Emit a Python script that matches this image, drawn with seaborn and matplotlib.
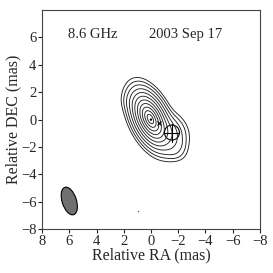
import numpy as np
import pandas as pd
import matplotlib
matplotlib.use("Agg")
import matplotlib.pyplot as plt
import seaborn as sns
from matplotlib.patches import Ellipse, Circle

# model components (RA mas, DEC mas, flux, major sigma, minor sigma, PA deg)
comp_ra = [0.05, -1.45, -1.7, 1.5, -2.1]
comp_dec = [0.05, -1.0, -2.3, 1.3, -1.8]
comp_flux = [1.0, 0.09, 0.025, 0.01, 0.01]
comp_maj = [1.05, 0.75, 0.5, 0.5, 0.35]
comp_min = [0.55, 0.6, 0.4, 0.4, 0.3]
comp_pa = [25, 25, 70, 25, 25]

contour_levels = [0.0085, 0.019, 0.04, 0.08, 0.145, 0.24, 0.37, 0.52, 0.68, 0.83, 0.945]

# markers
core_pos = (0.0, 0.0)
knot_pos = (-0.56, -0.23)
jet_pos = (-1.54, -0.95)
jet_radius = 0.55
beam_pos = (6.0, -5.95)
beam_size = (1.05, 2.1)
beam_angle = -18
stray_dot = (0.95, -6.7)

sns.set_theme(style="ticks")
plt.rcParams['font.family'] = ['Liberation Serif', 'DejaVu Serif']

x = np.linspace(-8, 8, 500)
y = np.linspace(-8, 8, 500)
X, Y = np.meshgrid(x, y)
Z = np.zeros_like(X)
for ra, dec, f, a, b, pa in zip(comp_ra, comp_dec, comp_flux, comp_maj, comp_min, comp_pa):
    t = np.deg2rad(pa)
    dx = X - ra
    dy = Y - dec
    u = dx * np.sin(t) + dy * np.cos(t)
    v = dx * np.cos(t) - dy * np.sin(t)
    Z += f * np.exp(-0.5 * ((u / a) ** 2 + (v / b) ** 2))

fig = plt.figure(figsize=(2.73, 2.73), dpi=100)
ax = fig.add_axes([0.154, 0.161, 0.798, 0.802])

ax.contour(X, Y, Z, levels=contour_levels, colors='#222222', linewidths=0.65)

pts = pd.DataFrame({'ra': [core_pos[0]], 'dec': [core_pos[1]]})
sns.scatterplot(data=pts, x='ra', y='dec', ax=ax, color='black', s=3, edgecolor='none')
ax.plot(*stray_dot, marker='o', color='#555555', markersize=1, mew=0)
ax.plot(*knot_pos, marker='x', color='black', markersize=3, mew=0.8)

ax.add_patch(Circle(jet_pos, jet_radius, fill=False, edgecolor='black', lw=0.8))
ax.plot([jet_pos[0] - jet_radius, jet_pos[0] + jet_radius], [jet_pos[1]] * 2, color='black', lw=0.8)
ax.plot([jet_pos[0]] * 2, [jet_pos[1] - jet_radius * 1.2, jet_pos[1] + jet_radius * 1.2], color='black', lw=0.8)

ax.add_patch(Ellipse(beam_pos, beam_size[0], beam_size[1], angle=beam_angle,
                     facecolor='#707070', edgecolor='black', lw=0.8))

ax.text(4.3, 6.25, '8.6 GHz', fontsize=10.5, ha='center', va='center')
ax.text(-2.55, 6.25, '2003 Sep 17', fontsize=10.5, ha='center', va='center')

ax.set_xlim(8, -8)
ax.set_ylim(-8, 8)
ax.set_xticks(np.arange(8, -9, -2))
ax.set_yticks(np.arange(-8, 7, 2))
ax.set_xticklabels([str(v).replace('-', '\u2212') for v in range(8, -9, -2)])
ax.set_yticklabels([str(v).replace('-', '\u2212') for v in range(-8, 7, 2)])
ax.tick_params(labelsize=10.5, length=3, width=0.8, direction='out', pad=1)
ax.set_xlabel('Relative RA (mas)', fontsize=11.5, labelpad=0)
ax.set_ylabel('Relative DEC (mas)', fontsize=11.5, labelpad=0)
for s in ax.spines.values():
    s.set_linewidth(0.8)
    s.set_color('#444444')

fig.savefig('out.png', dpi=100)
